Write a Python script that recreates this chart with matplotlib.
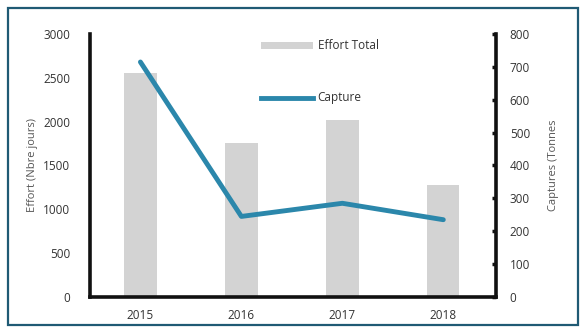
import matplotlib.pyplot as plt
from matplotlib.patches import Rectangle
from matplotlib.lines import Line2D

years = ["2015", "2016", "2017", "2018"]
effort = [2560, 1760, 2020, 1280]
capture = [715, 245, 285, 235]
effort_ticks = [0, 500, 1000, 1500, 2000, 2500, 3000]
capture_ticks = [0, 100, 200, 300, 400, 500, 600, 700, 800]

plt.rcParams['font.family'] = ['Open Sans', 'DejaVu Sans']

fig = plt.figure(figsize=(5.84, 3.34), dpi=100)
fig.patch.set_facecolor('white')

# outer frame around the chart area
fig.patches.append(Rectangle((0.014, 0.027), 0.976, 0.95, transform=fig.transFigure,
                             fill=False, edgecolor='#1f5a74', linewidth=1.6))

ax = fig.add_axes([0.154, 0.111, 0.695, 0.787])
x = list(range(len(years)))
ax.bar(x, effort, width=0.32, color='#d3d3d3', zorder=1)
ax.set_xlim(-0.5, 3.52)
ax.set_ylim(0, 3000)
ax.set_yticks(effort_ticks)
ax.set_xticks(x)
ax.set_xticklabels(years)
ax.tick_params(axis='y', length=0, pad=14, labelsize=8.5, labelcolor='#333333')
ax.tick_params(axis='x', length=0, pad=9, labelsize=8.5, labelcolor='#333333')
ax.set_ylabel("Effort (Nbre jours)", fontsize=8, color='#555555', labelpad=4)
for s in ['top', 'right']:
    ax.spines[s].set_visible(False)
ax.spines['left'].set_linewidth(2.6)
ax.spines['bottom'].set_linewidth(2.6)
ax.spines['left'].set_color('#111111')
ax.spines['bottom'].set_color('#111111')

ax2 = ax.twinx()
ax2.plot(x, capture, color='#2b87ab', linewidth=3.5, solid_capstyle='round',
         solid_joinstyle='round', zorder=3)
ax2.set_ylim(0, 800)
ax2.set_yticks(capture_ticks)
ax2.tick_params(axis='y', direction='in', length=3, width=2.5, color='#111111',
                pad=10, labelsize=8.5, labelcolor='#333333')
ax2.set_ylabel("Captures (Tonnes", fontsize=8, color='#555555', labelpad=13)
for s in ['top', 'left', 'bottom']:
    ax2.spines[s].set_visible(False)
ax2.spines['right'].set_linewidth(2.6)
ax2.spines['right'].set_color('#111111')

# legend entries placed in the upper middle of the plot
bar_handle = Rectangle((0, 0), 1, 1, facecolor='#d3d3d3', edgecolor='none')
line_handle = Line2D([0], [0], color='#2b87ab', linewidth=3.5)
leg = ax2.legend([bar_handle, line_handle], ["Effort Total", "Capture"],
                 loc='upper left', bbox_to_anchor=(0.395, 1.02), frameon=False,
                 fontsize=8.5, handlelength=4.4, handleheight=0.5,
                 labelspacing=3.3, handletextpad=0.4)
for t in leg.get_texts():
    t.set_color('#333333')

fig.savefig("out.png", dpi=100, facecolor='white')
